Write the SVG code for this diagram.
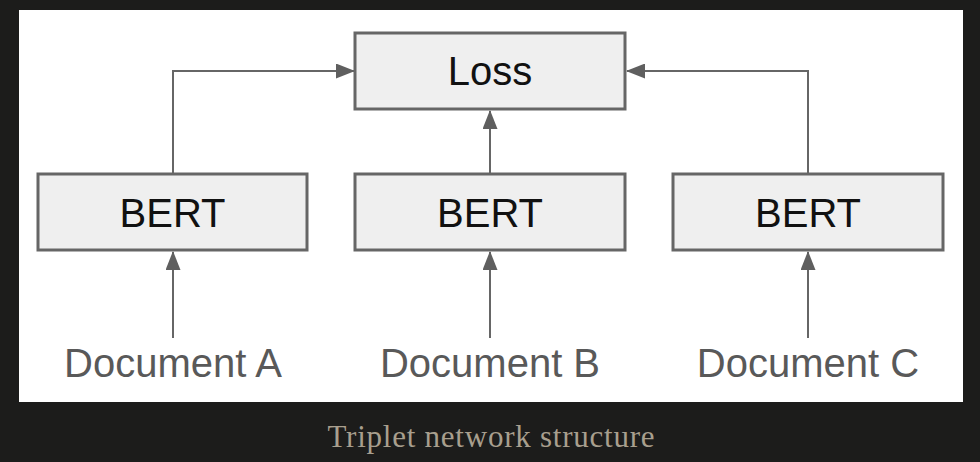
<svg xmlns="http://www.w3.org/2000/svg" width="980" height="462" viewBox="0 0 980 462">
  <style>
    .box { fill: #efefef; stroke: #666666; stroke-width: 3; }
    .lbl { font-family: "Liberation Sans", Arial, sans-serif; font-size: 40px; fill: #111111; text-anchor: middle; }
    .doc { font-family: "Liberation Sans", Arial, sans-serif; font-size: 40px; fill: #595959; text-anchor: middle; }
    .conn { fill: none; stroke: #666666; stroke-width: 2; marker-end: url(#ah); }
    .cap { font-family: "Liberation Serif", "Times New Roman", serif; font-size: 31px; fill: #a89f8e; text-anchor: middle; }
  </style>
  <defs>
    <marker id="ah" viewBox="0 0 19 15" refX="18" refY="7.5" markerWidth="19" markerHeight="15" markerUnits="userSpaceOnUse" orient="auto">
      <path d="M0,0 L19,7.5 L0,15 Z" fill="#5f5f5f"/>
    </marker>
  </defs>
  <rect x="0" y="0" width="980" height="462" fill="#1c1c1b"/>
  <rect x="19" y="10" width="944" height="392" fill="#ffffff"/>

  <g id="connectors">
    <path class="conn" d="M173,173 L173,71 L354,71"/>
    <path class="conn" d="M808,173 L808,71 L627,71"/>
    <path class="conn" d="M490,173 L490,111"/>
    <path class="conn" d="M173,338 L173,252"/>
    <path class="conn" d="M490,338 L490,252"/>
    <path class="conn" d="M808,338 L808,252"/>
  </g>

  <g id="loss">
    <rect class="box" x="355" y="33" width="270" height="76"/>
    <text class="lbl" x="490" y="85">Loss</text>
  </g>
  <g id="bert-a">
    <rect class="box" x="38" y="174" width="269" height="76"/>
    <text class="lbl" x="172.5" y="227">BERT</text>
  </g>
  <g id="bert-b">
    <rect class="box" x="355" y="174" width="270" height="76"/>
    <text class="lbl" x="490" y="227">BERT</text>
  </g>
  <g id="bert-c">
    <rect class="box" x="673" y="174" width="270" height="76"/>
    <text class="lbl" x="808" y="227">BERT</text>
  </g>
  <g id="doc-a">
    <text class="doc" x="173" y="377">Document A</text>
  </g>
  <g id="doc-b">
    <text class="doc" x="490" y="377">Document B</text>
  </g>
  <g id="doc-c">
    <text class="doc" x="808" y="377">Document C</text>
  </g>
  <text class="cap" x="491" y="447" textLength="327" lengthAdjust="spacing">Triplet network structure</text>
</svg>
